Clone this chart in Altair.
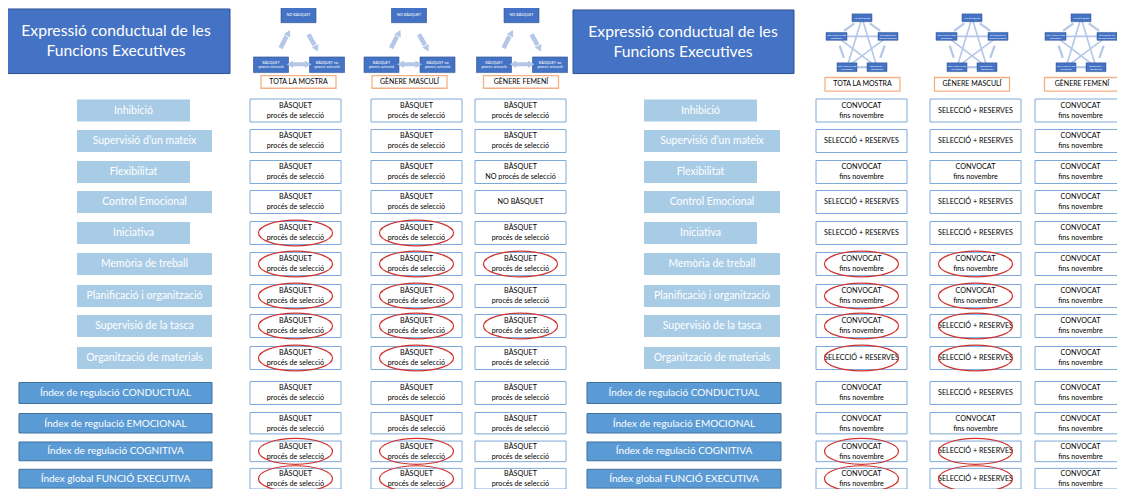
import math
import altair as alt
import pandas as pd

# ---------------- data ----------------
TITLE = "Expressió conductual de les\nFuncions Executives"
FE_LABELS = ["Inhibició", "Supervisió d’un mateix", "Flexibilitat", "Control Emocional",
             "Iniciativa", "Memòria de treball", "Planificació i organització",
             "Supervisió de la tasca", "Organització de materials"]
INDEX_LABELS = ["Índex de regulació CONDUCTUAL", "Índex de regulació EMOCIONAL",
                "Índex de regulació COGNITIVA", "Índex global FUNCIÓ EXECUTIVA"]
GROUPS = ["TOTA LA MOSTRA", "GÈNERE MASCULÍ", "GÈNERE FEMENÍ"]

LEFT_OUTCOMES = {"B": "BÀSQUET\nprocés de selecció",
                 "BN": "BÀSQUET\nNO procés de selecció",
                 "N": "NO BÀSQUET"}
RIGHT_OUTCOMES = {"C": "CONVOCAT\nfins novembre", "S": "SELECCIÓ + RESERVES"}

LEFT_RESULT = [["B", "B", "B"], ["B", "B", "B"], ["B", "B", "BN"], ["B", "B", "N"],
               ["B", "B", "B"], ["B", "B", "B"], ["B", "B", "B"], ["B", "B", "B"],
               ["B", "B", "B"], ["B", "B", "B"], ["B", "B", "B"], ["B", "B", "B"],
               ["B", "B", "B"]]
LEFT_CIRCLED = [[0, 0, 0], [0, 0, 0], [0, 0, 0], [0, 0, 0], [1, 1, 0], [1, 1, 1],
                [1, 1, 0], [1, 1, 1], [1, 1, 0], [0, 0, 0], [0, 0, 0], [1, 1, 0],
                [1, 1, 0]]
RIGHT_RESULT = [["C", "S", "C"], ["S", "S", "C"], ["C", "C", "C"], ["S", "S", "C"],
                ["S", "S", "C"], ["C", "C", "C"], ["C", "C", "C"], ["C", "S", "C"],
                ["S", "S", "C"], ["C", "S", "C"], ["C", "C", "C"], ["C", "S", "C"],
                ["C", "S", "C"]]
RIGHT_CIRCLED = [[0, 0, 0], [0, 0, 0], [0, 0, 0], [0, 0, 0], [0, 0, 0], [1, 1, 0],
                 [1, 1, 0], [1, 1, 0], [1, 1, 0], [0, 0, 0], [0, 0, 0], [1, 1, 0],
                 [1, 1, 0]]

TRIANGLE_NODES = ["NO BÀSQUET", "BÀSQUET\nprocés selecció", "BÀSQUET no\nprocés selecció"]
PENTAGON_NODES = ["NO BÀSQUET", "CONVOCAT fins\ndesembre", "BÀSQUET no\nprocés selecció",
                  "CONVOCAT fins\nnovembre", "SELECCIÓ +\nRESERVES"]

# ---------------- layout ----------------
ROW_Y = [110.5, 141, 172, 202, 233, 264, 296, 326, 358, 393, 424, 455, 485.5]
SHORT_LABELS = {0, 2, 4}
L_CELL_X = [295.5, 416.5, 520.5]
R_CELL_X = [861.5, 975.5, 1080.5]
L_DIAG_X = [298.5, 409, 521.5]
R_DIAG_X = [862, 972, 1081]
L_HEAD_X = [298.5, 409.5, 521]
R_HEAD_X = [862.5, 972, 1082]

BLUE_DARK = "#4472C4"
BLUE_DARK_EDGE = "#2F528F"
BLUE_MID = "#5B9BD5"
BLUE_MID_EDGE = "#41719C"
BLUE_LIGHT = "#A9CCE6"
CELL_EDGE = "#7EA9DA"
ARROW = "#B4C7E7"
ORANGE = "#F4B183"
RED = "#D1312D"
FONT = "Lato"

STYLES = {
    "title": dict(fontSize=15.7, color="white", lineHeight=20),
    "label": dict(fontSize=10.5, color="white", lineHeight=12),
    "index": dict(fontSize=10, color="white", lineHeight=12),
    "cell": dict(fontSize=7.2, color="black", lineHeight=10),
    "head": dict(fontSize=7, color="black", lineHeight=10),
    "tri": dict(fontSize=3.8, color="white", lineHeight=4.6),
    "pent": dict(fontSize=2.6, color="white", lineHeight=3),
}

rects, rules, heads, ellipses = [], [], [], []
txt = {k: [] for k in STYLES}


def rect(x0, x1, y0, y1, fill, stroke="transparent", sw=0):
    rects.append(dict(x0=x0, x1=x1, y0=y0, y1=y1, fill=fill, stroke=stroke, sw=sw))


def text(kind, x, y, t):
    n = t.count("\n") + 1
    lh = STYLES[kind]["lineHeight"]
    txt[kind].append(dict(x=x, y=y - (n - 1) * lh / 2, t=t))


def rule(x0, y0, x1, y1, sw, col=ARROW):
    rules.append(dict(x0=x0, y0=y0, x1=x1, y1=y1, sw=sw, col=col))


def head(x, y, dx, dy):
    ang = math.degrees(math.atan2(dx, -dy)) % 360
    heads.append(dict(x=x, y=y, ang=ang))


# ---- pentagon diagram lines (behind boxes) ----
pent_rel = [(0, 16), (-25.5, 35), (26, 35), (-15, 66.5), (15, 66.5)]  # T, UL, UR, LL, LR
edges = [(0, 1), (0, 2), (1, 3), (2, 4), (3, 4)]
stars = [(0, 3), (0, 4), (1, 2), (1, 4), (2, 3)]
for cx in R_DIAG_X:
    for a, b in edges:
        (xa, ya), (xb, yb) = pent_rel[a], pent_rel[b]
        rule(cx + xa + 0.3 * (xb - xa), ya + 0.3 * (yb - ya),
             cx + xa + 0.7 * (xb - xa), ya + 0.7 * (yb - ya), 2.2)
    for a, b in stars:
        (xa, ya), (xb, yb) = pent_rel[a], pent_rel[b]
        rule(cx + xa, ya, cx + xb, yb, 1.6)

# ---- triangle arrows ----
for cx in L_DIAG_X:
    rule(cx - 18, 47, cx - 12, 35, 4.5)
    head(cx - 10.5, 32.5, 6, -12)
    rule(cx + 10, 33, cx + 16, 44, 4.5)
    head(cx + 17.5, 46.5, 6, 12)
    rule(cx - 6, 63.5, cx + 7, 63.5, 4)
    head(cx - 7.5, 63.5, -1, 0)
    head(cx + 8.5, 63.5, 1, 0)

# ---- title boxes ----
rect(5, 230, 7, 73, BLUE_DARK, BLUE_DARK_EDGE, 1)
text("title", 116, 39.5, TITLE)
rect(573, 794, 8, 73, BLUE_DARK, BLUE_DARK_EDGE, 1)
text("title", 683, 40.5, TITLE)

# ---- triangle diagram boxes ----
for cx in L_DIAG_X:
    for (x0, x1, y0, y1), lab in zip([(-17.5, 17.5, 5, 21), (-45, -10, 56, 72), (11, 46, 56, 72)],
                                     TRIANGLE_NODES):
        rect(cx + x0, cx + x1, y0, y1, BLUE_DARK, BLUE_DARK_EDGE, 0.6)
        text("tri", cx + (x0 + x1) / 2, (y0 + y1) / 2, lab)

# ---- pentagon diagram boxes ----
pent_box = [(-10, 10, 12, 20), (-36, -15, 31, 39), (16, 36, 31, 39), (-25, -5, 62, 71), (5, 25, 62, 71)]
for cx in R_DIAG_X:
    for (x0, x1, y0, y1), lab in zip(pent_box, PENTAGON_NODES):
        rect(cx + x0, cx + x1, y0, y1, BLUE_DARK, BLUE_DARK_EDGE, 0.5)
        text("pent", cx + (x0 + x1) / 2, (y0 + y1) / 2, lab)

# ---- group headers ----
for cx, g in zip(L_HEAD_X, GROUPS):
    rect(cx - 37.5, cx + 37.5, 75, 88, "white", ORANGE, 1.3)
    text("head", cx, 81.5, g)
for cx, g in zip(R_HEAD_X, GROUPS):
    rect(cx - 37.5, cx + 37.5, 77, 91, "white", ORANGE, 1.3)
    text("head", cx, 84, g)

# ---- row labels ----
for i, lab in enumerate(FE_LABELS):
    y = ROW_Y[i]
    lx1 = 190 if i in SHORT_LABELS else 212
    rect(77, lx1, y - 11, y + 11, BLUE_LIGHT)
    text("label", (77 + lx1) / 2, y, lab)
    rx1 = 757 if i in SHORT_LABELS else 780
    rect(644, rx1, y - 11, y + 11, BLUE_LIGHT)
    text("label", (644 + rx1) / 2, y, lab)
for j, lab in enumerate(INDEX_LABELS):
    y = ROW_Y[9 + j]
    rect(19, 212, y - 10.5, y + 10.5, BLUE_MID, BLUE_MID_EDGE, 1)
    text("index", 115.5, y, lab)
    rect(587, 781, y - 10.5, y + 10.5, BLUE_MID, BLUE_MID_EDGE, 1)
    text("index", 684, y, lab)

# ---- result cells ----
for i, y in enumerate(ROW_Y):
    for c in range(3):
        cx = L_CELL_X[c]
        rect(cx - 45.5, cx + 45.5, y - 11.5, y + 11.5, "white", CELL_EDGE, 1)
        text("cell", cx, y, LEFT_OUTCOMES[LEFT_RESULT[i][c]])
        if LEFT_CIRCLED[i][c]:
            ellipses.append(dict(x=cx, y=y))
        cx = R_CELL_X[c]
        rect(cx - 45.5, cx + 45.5, y - 11.5, y + 11.5, "white", CELL_EDGE, 1)
        text("cell", cx, y, RIGHT_OUTCOMES[RIGHT_RESULT[i][c]])
        if RIGHT_CIRCLED[i][c]:
            ellipses.append(dict(x=cx, y=y))

# ---------------- chart ----------------
XS = alt.Scale(domain=[8, 1117], nice=False, zero=False)
# piecewise mapping: keeps the middle of the picture 1:1 and squeezes the edges
YS = alt.Scale(domain=[6, 100, 420, 497], range=[0, 92, 412, 481], nice=False, zero=False)


def X(f):
    return alt.X(f, type="quantitative", scale=XS, axis=None)


def Y(f):
    return alt.Y(f, type="quantitative", scale=YS, axis=None)


rule_layer = alt.Chart(pd.DataFrame(rules)).mark_rule(strokeCap="butt").encode(
    x=X("x0"), x2="x1", y=Y("y0"), y2="y1",
    color=alt.Color("col:N", scale=None),
    strokeWidth=alt.StrokeWidth("sw:Q", scale=None),
)
head_layer = alt.Chart(pd.DataFrame(heads)).mark_point(
    shape="triangle", filled=True, opacity=1, color=ARROW, size=55
).encode(x=X("x"), y=Y("y"), angle=alt.Angle("ang:Q", scale=None))
rect_layer = alt.Chart(pd.DataFrame(rects)).mark_rect().encode(
    x=X("x0"), x2="x1", y=Y("y0"), y2="y1",
    fill=alt.Fill("fill:N", scale=None),
    stroke=alt.Stroke("stroke:N", scale=None),
    strokeWidth=alt.StrokeWidth("sw:Q", scale=None),
)

text_layers = []
for k, st in STYLES.items():
    text_layers.append(
        alt.Chart(pd.DataFrame(txt[k])).mark_text(
            font=FONT, align="center", baseline="middle", lineBreak="\n", **st
        ).encode(x=X("x"), y=Y("y"), text=alt.Text("t:N"))
    )

ELLIPSE = "M -1 0 A 1 0.35 0 1 1 1 0 A 1 0.35 0 1 1 -1 0 Z"
ell_layer = alt.Chart(pd.DataFrame(ellipses)).mark_point(
    shape=ELLIPSE, filled=False, color=RED, strokeWidth=1.2, opacity=1, size=74 * 74
).encode(x=X("x"), y=Y("y"))

chart = alt.layer(rule_layer, rect_layer, head_layer, *text_layers, ell_layer).properties(
    width=1109, height=481, padding=0, autosize=alt.AutoSizeParams(type="none"),
    background="white",
).configure_view(stroke=None)

chart.save("out.html", embed_options={"renderer": "svg", "actions": False})
